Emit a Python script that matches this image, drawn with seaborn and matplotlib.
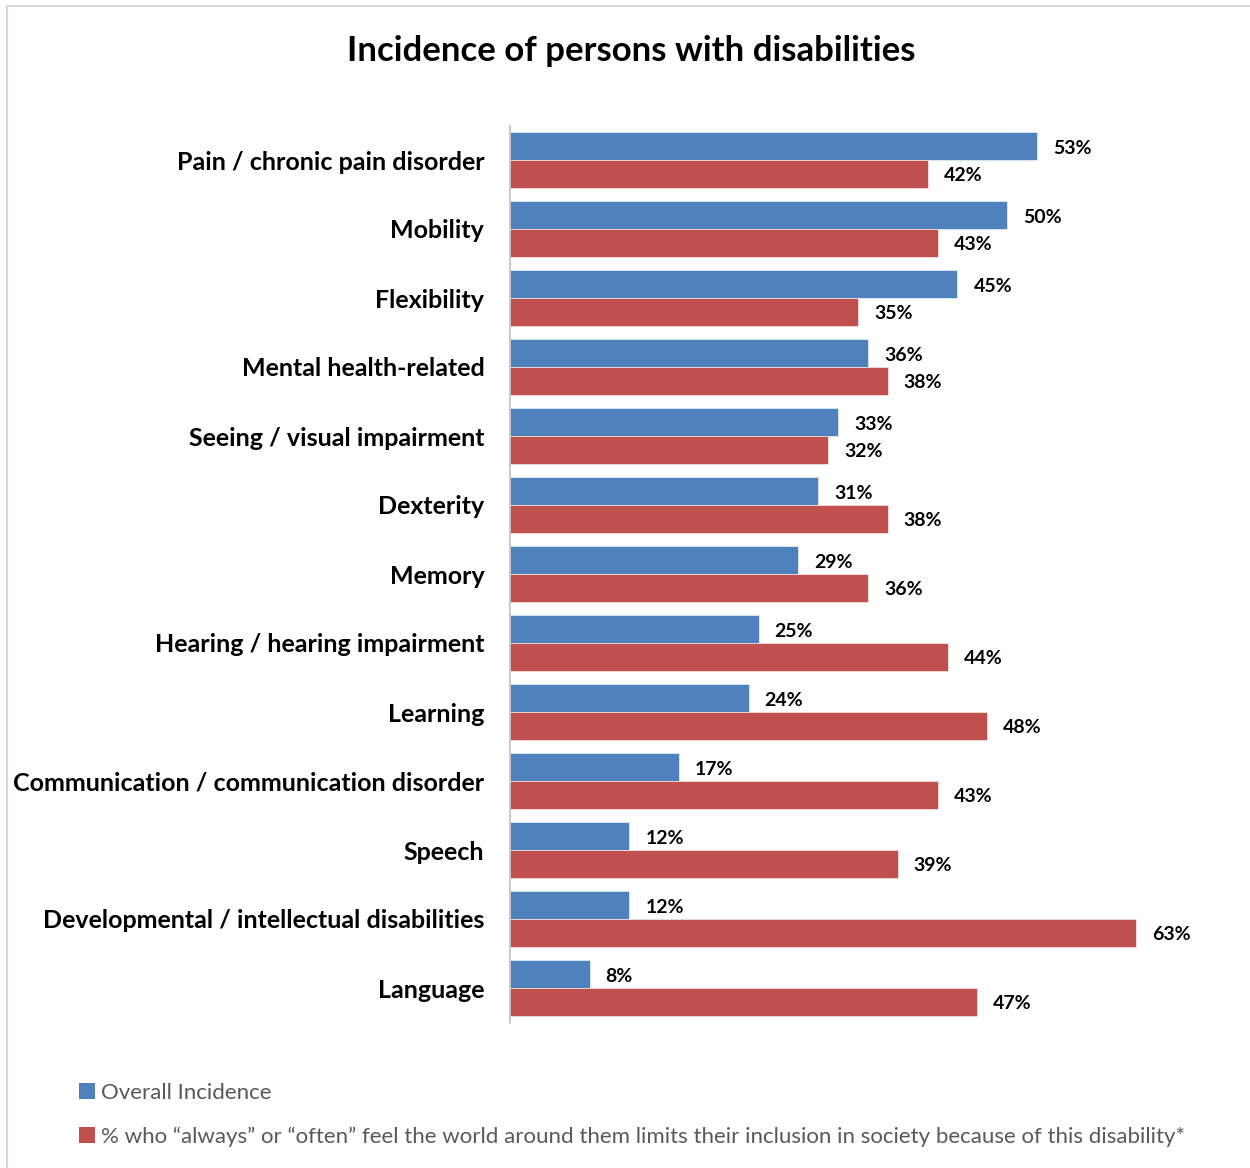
import matplotlib
matplotlib.use("Agg")
import matplotlib.pyplot as plt
import seaborn as sns
import pandas as pd
from matplotlib.patches import Patch
from matplotlib.lines import Line2D

categories = [
    "Pain / chronic pain disorder",
    "Mobility",
    "Flexibility",
    "Mental health-related",
    "Seeing / visual impairment",
    "Dexterity",
    "Memory",
    "Hearing / hearing impairment",
    "Learning",
    "Communication / communication disorder",
    "Speech",
    "Developmental / intellectual disabilities",
    "Language",
]
overall = [53, 50, 45, 36, 33, 31, 29, 25, 24, 17, 12, 12, 8]
limits = [42, 43, 35, 38, 32, 38, 36, 44, 48, 43, 39, 63, 47]
series_names = [
    "Overall Incidence",
    "% who \u201calways\u201d or \u201coften\u201d feel the world around them limits their inclusion in society because of this disability*",
]
colors = ["#4F81BD", "#C0504D"]

df = pd.DataFrame({
    "category": categories * 2,
    "value": overall + limits,
    "series": [series_names[0]] * len(categories) + [series_names[1]] * len(categories),
})

sns.set_theme(style="white")
plt.rcParams['font.family'] = ['Lato', 'DejaVu Sans']

W, H = 1250, 1168
fig = plt.figure(figsize=(W / 100, H / 100), dpi=100)
ax = fig.add_axes([510 / W, 1 - 1022.5 / H, 700 / W, (1022.5 - 125.5) / H])

sns.barplot(data=df, y="category", x="value", hue="series", order=categories,
            hue_order=series_names, palette=colors, orient="h", width=0.8,
            saturation=1, edgecolor="white", linewidth=0.4, ax=ax, legend=False)

ax.set_xlim(0, 70.4)
ax.set_xlabel("")
ax.set_ylabel("")
ax.set_xticks([])
for s in ["top", "right", "bottom"]:
    ax.spines[s].set_visible(False)
ax.spines["left"].set_color("#BFBFBF")
ax.spines["left"].set_linewidth(1.2)
ax.tick_params(axis="y", length=0, pad=18.5)
for lab in ax.get_yticklabels():
    lab.set_fontsize(18)
    lab.set_fontweight("bold")
    lab.set_color("black")

for cont in ax.containers:
    texts = ax.bar_label(cont, labels=[f"{int(round(v))}%" for v in cont.datavalues],
                         padding=11.5, fontsize=14, fontweight="bold", color="black")
    for t in texts:
        x0, y0 = t.xyann
        t.xyann = (x0, y0 - 1.5)

fig.text(631 / W, 1 - 51 / H, "Incidence of persons with disabilities",
         ha="center", va="center", fontsize=25, fontweight="bold", color="black")

handles = [Patch(facecolor=c, edgecolor="none") for c in colors]
leg = fig.legend(handles, series_names, loc="upper left",
                 bbox_to_anchor=(79 / W, 1 - 1083 / H), frameon=False,
                 fontsize=16, handlelength=0.7, handleheight=0.7,
                 handletextpad=0.3, labelspacing=1.05, borderaxespad=0,
                 borderpad=0)
for t in leg.get_texts():
    t.set_color("#595959")

# chart frame (left and top light gray lines)
fig.add_artist(Line2D([7 / W, 7 / W], [0, 1 - 6 / H], transform=fig.transFigure,
                      color="#D9D9D9", linewidth=1.5))
fig.add_artist(Line2D([7 / W, 1], [1 - 6 / H, 1 - 6 / H], transform=fig.transFigure,
                      color="#D9D9D9", linewidth=1.5))

fig.savefig("out.png", dpi=100, facecolor="white")
